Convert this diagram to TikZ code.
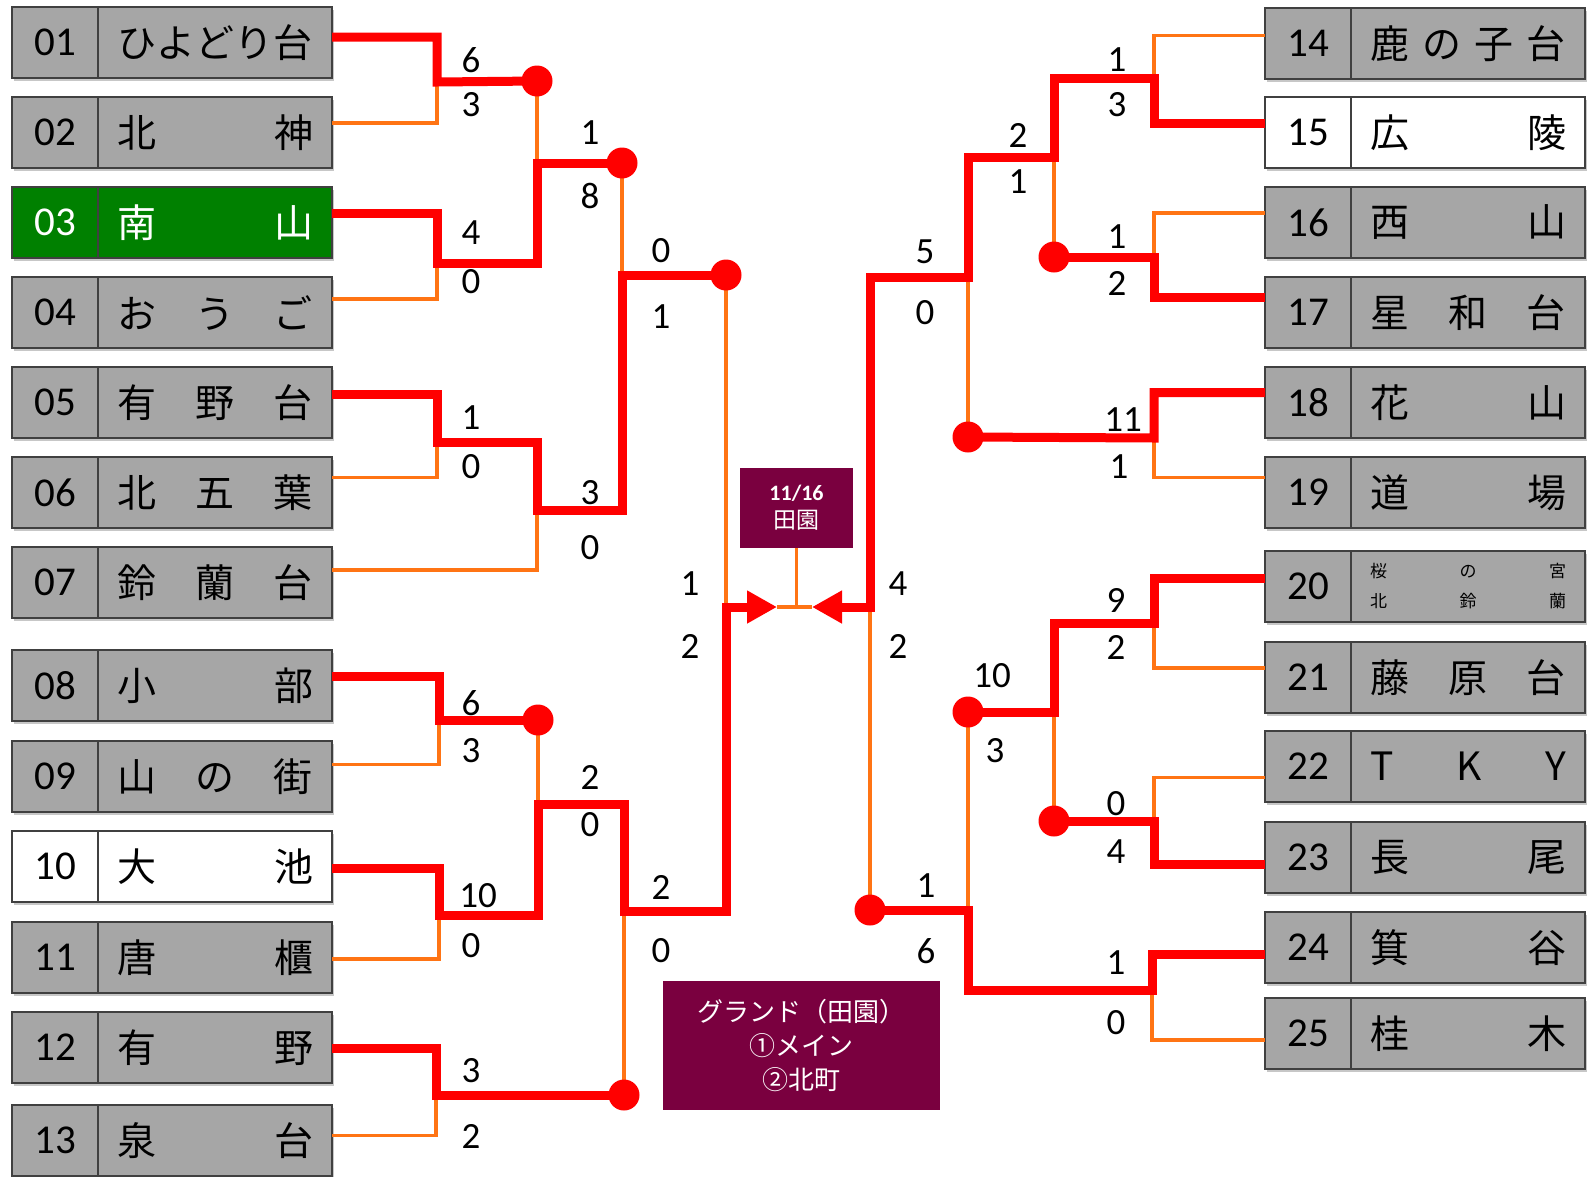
\documentclass[tikz,border=0pt]{standalone}
\usepackage{fontspec}
\setmainfont{Carlito}
\newfontfamily\jp{Noto Sans CJK JP}
\usetikzlibrary{arrows.meta}
\definecolor{boxgray}{HTML}{A6A6A6}
\definecolor{boxedge}{HTML}{404040}
\definecolor{winred}{HTML}{FF0000}
\definecolor{loseorange}{HTML}{FF7414}
\definecolor{venuemaroon}{HTML}{7A003F}
\definecolor{teamgreen}{HTML}{008000}
\newcommand\spread[1]{\makebox[196pt]{#1}}
\newcommand\team[6]{%
  \fill[boxshadow] (#2+2,#3+3) rectangle ++(320,71);
  \node[numcell,#4] (n#1) at (#2,#3) {\raisebox{-4pt}{#5}};
  \node[namecell,#4] (t#1) at (n#1.north east) {#6};
}
\begin{document}
\begin{tikzpicture}[x=1pt,y=-1pt,
  cellbase/.style={draw=boxedge,line width=1.6pt,fill=boxgray,minimum height=71pt,inner sep=0pt,outer sep=0pt,anchor=north west},
  numcell/.style={cellbase,minimum width=86pt,font=\fontsize{41}{41}\selectfont},
  namecell/.style={cellbase,minimum width=234pt,font=\jp\fontsize{39}{39}\selectfont},
  greenteam/.style={fill=teamgreen,text=white},
  whiteteam/.style={fill=white},
  grayteam/.style={},
  boxshadow/.style={fill=black!22},
  win/.style={draw=winred,line width=9pt,line join=miter},
  lose/.style={draw=loseorange,line width=3.5pt},
  windot/.style={circle,fill=winred,minimum size=31pt,inner sep=0pt},
  score/.style={font=\fontsize{37}{37}\selectfont,inner sep=0pt},
  maroonbox/.style={fill=venuemaroon,text=white,align=center,inner sep=0pt}
]
\useasboundingbox (0,0) rectangle (1587,1176);

% ---- teams, left
\team{01}{12}{7}{grayteam}{01}{\spread{ひ\hfill よ\hfill ど\hfill り\hfill 台}}
\team{02}{12}{97}{grayteam}{02}{\spread{北\hfill 神}}
\team{03}{12}{187}{greenteam}{03}{\spread{南\hfill 山}}
\team{04}{12}{277}{grayteam}{04}{\spread{お\hfill う\hfill ご}}
\team{05}{12}{367}{grayteam}{05}{\spread{有\hfill 野\hfill 台}}
\team{06}{12}{457}{grayteam}{06}{\spread{北\hfill 五\hfill 葉}}
\team{07}{12}{547}{grayteam}{07}{\spread{鈴\hfill 蘭\hfill 台}}
\team{08}{12}{650}{grayteam}{08}{\spread{小\hfill 部}}
\team{09}{12}{741}{grayteam}{09}{\spread{山\hfill の\hfill 街}}
\team{10}{12}{831}{whiteteam}{10}{\spread{大\hfill 池}}
\team{11}{12}{922}{grayteam}{11}{\spread{唐\hfill 櫃}}
\team{12}{12}{1012}{grayteam}{12}{\spread{有\hfill 野}}
\team{13}{12}{1105}{grayteam}{13}{\spread{泉\hfill 台}}
% ---- teams, right
\team{14}{1265}{8}{grayteam}{14}{\spread{鹿\hfill の\hfill 子\hfill 台}}
\team{15}{1265}{97}{whiteteam}{15}{\spread{広\hfill 陵}}
\team{16}{1265}{187}{grayteam}{16}{\spread{西\hfill 山}}
\team{17}{1265}{277}{grayteam}{17}{\spread{星\hfill 和\hfill 台}}
\team{18}{1265}{367}{grayteam}{18}{\spread{花\hfill 山}}
\team{19}{1265}{457}{grayteam}{19}{\spread{道\hfill 場}}
\team{20}{1265}{551}{grayteam}{20}{\fontsize{17}{30}\selectfont\begin{tabular}{@{}c@{}}\spread{桜\hfill の\hfill 宮}\\\spread{北\hfill 鈴\hfill 蘭}\end{tabular}}
\team{21}{1265}{642}{grayteam}{21}{\spread{藤\hfill 原\hfill 台}}
\team{22}{1265}{731}{grayteam}{22}{\spread{T\hfill K\hfill Y}}
\team{23}{1265}{822}{grayteam}{23}{\spread{長\hfill 尾}}
\team{24}{1265}{912}{grayteam}{24}{\spread{箕\hfill 谷}}
\team{25}{1265}{998}{grayteam}{25}{\spread{桂\hfill 木}}

% ---- junction points
\coordinate (jA) at (437,82);
\coordinate (jB) at (437,263);
\coordinate (jC) at (437,442);
\coordinate (jC2) at (537,510);
\coordinate (jD) at (439,720);
\coordinate (jE) at (439,915);
\coordinate (jE2) at (538,804);
\coordinate (jF) at (436,1095);
\coordinate (jG2L) at (624,911);
\coordinate (cL0) at (726,607);
\coordinate (tipL) at (777,607);
\coordinate (tipR) at (812,607);
\coordinate (cR0) at (870,607);
\coordinate (jG) at (1154,78);
\coordinate (jG3) at (1054,157);
\coordinate (jG4) at (968,277);
\coordinate (jH) at (1154,257);
\coordinate (jI) at (1154,438);
\coordinate (jJ) at (1154,623);
\coordinate (jJ2) at (1054,712);
\coordinate (jK) at (1154,821);
\coordinate (jL) at (1152,990);
\coordinate (jL2) at (968,910);
% winner dots (positions)
\coordinate (pA) at (537,81);
\coordinate (pC) at (622,163);
\coordinate (pE) at (726,275);
\coordinate (pD) at (538,720);
\coordinate (pF) at (624,1095);
\coordinate (pH) at (1054,257);
\coordinate (pI) at (968,437);
\coordinate (pJ) at (968,712);
\coordinate (pK) at (1054,821);
\coordinate (pL) at (870,910);

% ---- date box and venue box
\node[maroonbox,minimum width=113pt,minimum height=80pt,font=\fontsize{22}{28}\selectfont] (date) at (796.5,508)
  {\textbf{11/16}\\{\jp\fontsize{23}{28}\selectfont 田園}};
\node[maroonbox,minimum width=277pt,minimum height=129pt,font=\jp\fontsize{26}{34}\selectfont] (venue) at (801.5,1045.5)
  {グランド（田園）\\①メイン\\②北町};

% ---- losing (orange) lines
\draw[lose] ([yshift=9.5pt]t02.east) -| (jA);
\draw[lose] ([yshift=13.5pt]t04.east) -| (jB);
\draw[lose] (pA) -- (pA |- pC);
\draw[lose] ([yshift=15pt]t06.east) -| (jC);
\draw[lose] ([yshift=12.5pt]t07.east) -| (jC2);
\draw[lose] (pC) -- (pC |- pE);
\draw[lose] (pE) -- (cL0);
\draw[lose] ([yshift=12pt]t09.east) -| (jD);
\draw[lose] (pD) -- (jE2);
\draw[lose] ([yshift=-1.5pt]t11.east) -| (jE);
\draw[lose] ([yshift=5pt]t13.east) -| (jF);
\draw[lose] (pF) -- (jG2L);
\draw[lose] (tipL) -- (tipR);
\draw[lose] (date.south) -- (date.south |- tipL);
\draw[lose] ([yshift=8pt]n14.west) -| (jG);
\draw[lose] (pH) -- (jG3);
\draw[lose] ([yshift=9.5pt]n16.west) -| (jH);
\draw[lose] ([yshift=15pt]n19.west) -| (jI);
\draw[lose] (pI) -- (jG4);
\draw[lose] (cR0) -- (pL);
\draw[lose] ([yshift=9.5pt]n21.west) -| (jJ);
\draw[lose] (pK) -- (jJ2);
\draw[lose] ([yshift=-11pt]n22.west) -| (jK);
\draw[lose] (pJ) -- (jL2);
\draw[lose] ([yshift=-6.5pt]n25.west) -| (jL);

% ---- winning (red) lines
\draw[win] ([yshift=5.5pt]t01.east) -| (jA) -- (pA);
\draw[win] ([yshift=9pt]t03.east) -| (jB) -| (pA |- pC) -- (pC);
\draw[win] ([yshift=8pt]t05.east) -| (jC) -| (jC2) -| (pC |- pE) -- (pE);
\draw[win] ([yshift=9pt]t08.east) -| (jD) -- (pD);
\draw[win] ([yshift=-1pt]t12.east) -| (jF) -- (pF);
\draw[win,-{Triangle[length=30pt,width=31pt]}] ([yshift=-2pt]t10.east) -| (jE) -| (jE2) -| (jG2L) -| (cL0) -- (tipL);
\draw[win] ([yshift=15.5pt]n17.west) -| (jH) -- (pH);
\draw[win] ([yshift=10pt]n18.west) -| (jI) -- (pI);
\draw[win,-{Triangle[length=30pt,width=31pt]}] ([yshift=9.5pt]n15.west) -| (jG) -| (jG3) -| (jG4) -| (cR0) -- (tipR);
\draw[win] ([yshift=8.5pt]n20.west) -| (jJ) -| (jJ2) -- (pJ);
\draw[win] ([yshift=-7pt]n23.west) -| (jK) -- (pK);
\draw[win] ([yshift=-6.5pt]n24.west) -| (jL) -| (jL2) -- (pL);

% ---- winner dots
\foreach \d in {A,C,E,D,F,H,I,J,K,L} \node[windot] (w\d) at (p\d) {};

% ---- scores
\node[score] (s01) at (471,60) {6};
\node[score] (s02) at (471,105) {3};
\node[score] (s03) at (471,233) {4};
\node[score] (s04) at (471,282) {0};
\node[score] (s05) at (590,133) {1};
\node[score] (s06) at (590,196) {8};
\node[score] (s07) at (471,418) {1};
\node[score] (s08) at (471,467) {0};
\node[score] (s09) at (590,493) {3};
\node[score] (s10) at (590,548) {0};
\node[score] (s11) at (661,251) {0};
\node[score] (s12) at (661,317) {1};
\node[score] (s13) at (471,703) {6};
\node[score] (s14) at (471,751) {3};
\node[score] (s15) at (478,896) {10};
\node[score] (s16) at (471,946) {0};
\node[score] (s17) at (590,777) {2};
\node[score] (s18) at (590,825) {0};
\node[score] (s19) at (471,1071) {3};
\node[score] (s20) at (471,1136) {2};
\node[score] (s21) at (661,887) {2};
\node[score] (s22) at (661,951) {0};
\node[score] (s23) at (690,584) {1};
\node[score] (s24) at (690,646) {2};
\node[score] (s25) at (898,584) {4};
\node[score] (s26) at (898,646) {2};
\node[score] (s27) at (1117,60) {1};
\node[score] (s28) at (1117,105) {3};
\node[score] (s29) at (1018,135) {2};
\node[score] (s30) at (1018,182) {1};
\node[score] (s31) at (1117,237) {1};
\node[score] (s32) at (1117,283) {2};
\node[score] (s33) at (925,252) {5};
\node[score] (s34) at (925,313) {0};
\node[score] (s35) at (1123,420) {11};
\node[score] (s36) at (1119,467) {1};
\node[score] (s37) at (1116,600) {9};
\node[score] (s38) at (1116,647) {2};
\node[score] (s39) at (992,676) {10};
\node[score] (s40) at (995,751) {3};
\node[score] (s41) at (1116,804) {0};
\node[score] (s42) at (1116,852) {4};
\node[score] (s43) at (926,886) {1};
\node[score] (s44) at (926,951) {6};
\node[score] (s45) at (1116,963) {1};
\node[score] (s46) at (1116,1023) {0};
\end{tikzpicture}
\end{document}
